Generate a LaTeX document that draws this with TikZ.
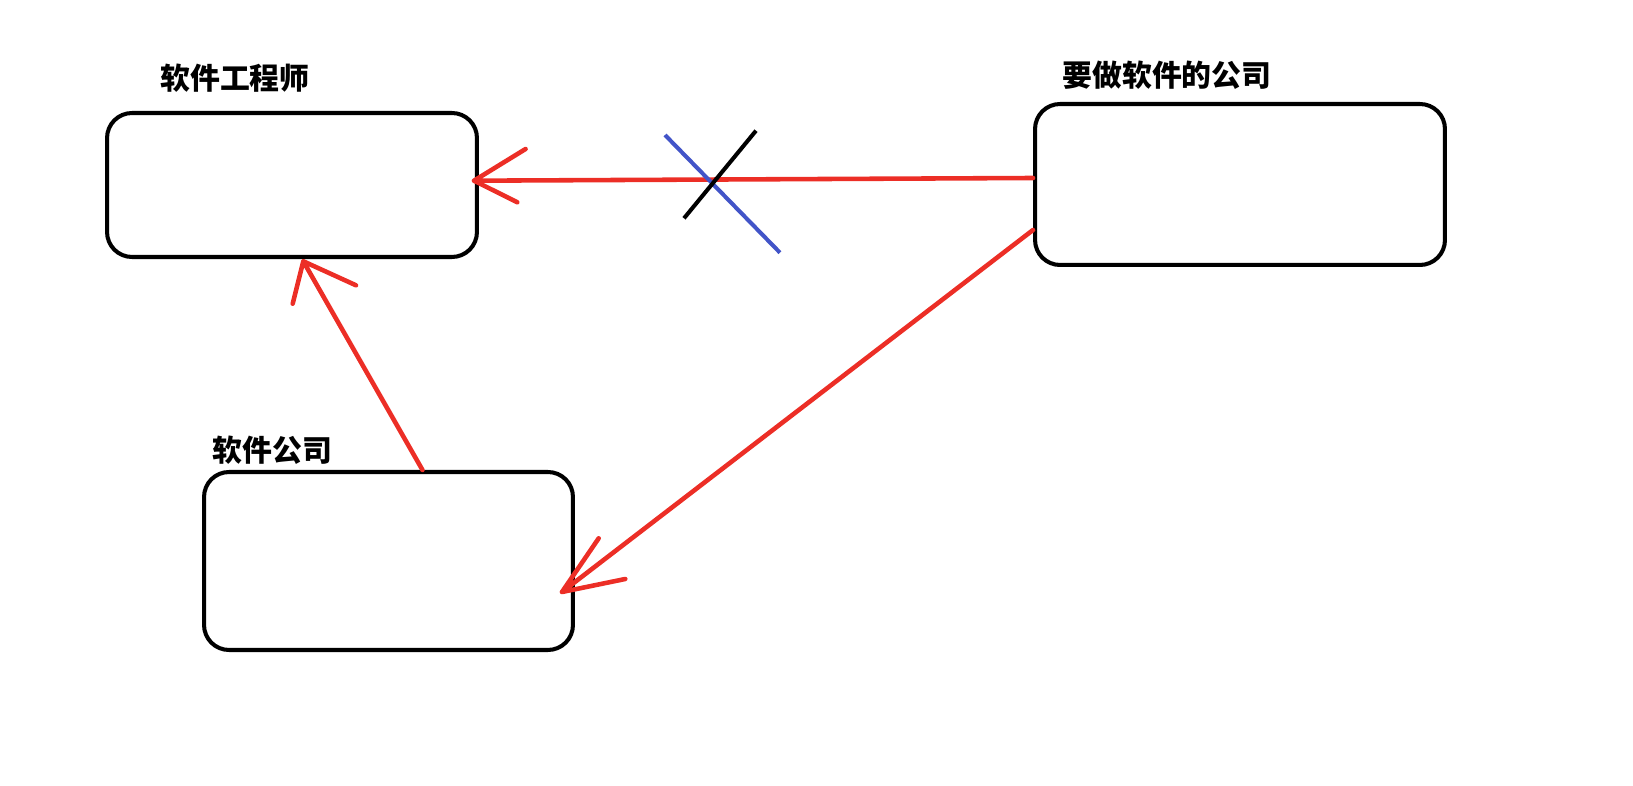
\documentclass[tikz,border=0pt]{standalone}
\usepackage{fontspec}
\newfontfamily\cjk{Noto Sans CJK SC}
\definecolor{penred}{RGB}{236,46,38}
\definecolor{penblue}{RGB}{66,84,200}
\begin{document}
\begin{tikzpicture}[x=0.02cm,y=-0.02cm,
  box/.style={draw,line width=2.3pt,rounded corners=0.5cm,inner sep=0pt},
  title/.style={font=\cjk\bfseries\fontsize{17}{20}\selectfont,inner sep=0pt},
  redline/.style={penred,line width=2.6pt,line cap=round}]
  \useasboundingbox (0,0) rectangle (1633,786);
  \node[box,minimum width=7.4cm,minimum height=2.88cm] (engineer) at (292,185) {};
  \node[box,minimum width=8.2cm,minimum height=3.22cm] (client) at (1240,184.5) {};
  \node[box,minimum width=7.38cm,minimum height=3.56cm] (company) at (388.5,561) {};
  \node[title] (engineerlabel) at (235,78.5) {软件工程师};
  \node[title] (clientlabel) at (1167,75) {要做软件的公司};
  \node[title] (companylabel) at (272.5,450) {软件公司};
  % arrow tips
  \coordinate (tipA) at ([shift={(-0.1cm,0.086cm)}]engineer.east);
  \coordinate (tipB) at ([shift={(-0.26cm,-0.62cm)}]company.east);
  \coordinate (tipC) at ([shift={(0.226cm,-0.046cm)}]engineer.south);
  \draw[redline] ([yshift=0.13cm]client.west) -- (tipA)
    (tipA) -- +(51.6,-31.7) (tipA) -- +(43.3,21.6);
  \draw[redline] ([yshift=-0.91cm]client.west) -- (tipB)
    (tipB) -- +(36.7,-53.7) (tipB) -- +(63.3,-13);
  \draw[redline] ([xshift=0.68cm]company.north) -- (tipC)
    (tipC) -- +(-10.6,42.4) (tipC) -- +(52.7,24);
  % the cross on the direct line
  \draw[penblue,line width=2.3pt] (665,135) -- (780,252.7);
  \draw[line width=2.3pt] (684,218.3) -- (756,130.7);
\end{tikzpicture}
\end{document}
